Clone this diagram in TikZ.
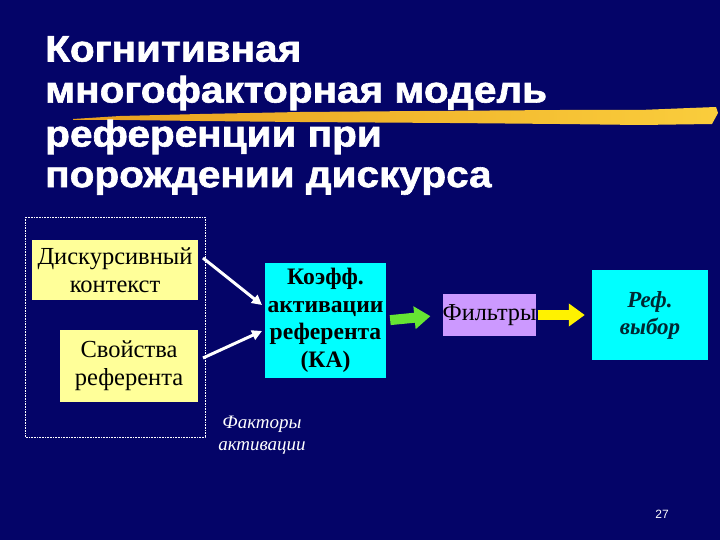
\documentclass[tikz,border=0pt]{standalone}
\usepackage{fontspec}
\setmainfont{Liberation Serif}
\newfontfamily\titlefont[BoldFeatures={FakeBold=1.6}]{Liberation Sans}
\newfontfamily\numfont{Liberation Sans}
\usetikzlibrary{arrows.meta}
\definecolor{bg}{RGB}{4,4,104}
\definecolor{lyel}{RGB}{255,255,153}
\definecolor{cyanbox}{RGB}{0,255,255}
\definecolor{lav}{RGB}{204,153,255}
\definecolor{garrow}{RGB}{102,230,51}
\definecolor{stroke1}{RGB}{232,160,30}
\definecolor{stroke2}{RGB}{250,205,60}
\tikzset{
  titleline/.style={anchor=west,text=white,xscale=1.095,font=\titlefont\bfseries\fontsize{37}{40}\selectfont,inner sep=0pt},
  ybox/.style={fill=lyel,inner sep=0pt,align=center,font=\fontsize{24.5}{28}\selectfont},
  cbox/.style={fill=cyanbox,inner sep=0pt,align=center},
  warrow/.style={white,line width=3pt,-{Triangle[length=10pt,width=10pt]}},
  blockarrow/.style={line width=10pt,-{Triangle[length=16pt,width=22pt]}},
}
\begin{document}
\begin{tikzpicture}[x=1pt,y=-1pt]
\fill[bg] (0,0) rectangle (720,540);
\useasboundingbox (0,0) rectangle (720,540);
% title
\node[titleline] (t1) at (45,49) {Когнитивная};
\node[titleline] (t2) at (45,93) {многофакторная модель};
% brush stroke
\shade[left color=stroke1,right color=stroke2]
  (73,119) -- (120,116) -- (200,114) -- (300,112) -- (420,111) -- (560,110) -- (640,110) -- (690,108) -- (716,107)
  -- (718,113) -- (712,124) -- (640,125) -- (560,124) -- (450,123) -- (300,122) -- (200,121) -- (120,120) -- (73,120) -- cycle;
\node[titleline] (t3) at (45,137) {референции при};
\node[titleline] (t4) at (45,181) {порождении дискурса};
% dotted frame
\draw[white,densely dotted,line width=0.6pt] (25,217) rectangle (205,437);
% boxes
\node[ybox,minimum width=166pt,minimum height=60pt] (dk) at (115,270) {Дискурсивный\\контекст};
\node[ybox,minimum width=138pt,minimum height=72pt] (sv) at (129,366) {Свойства\\референта};
\node[cbox,minimum width=121pt,minimum height=115pt,font=\bfseries\fontsize{23.6}{27.5}\selectfont] (ka) at (325.5,320.5) {Коэфф.\\активации\\референта\\(КА)};
\node[fill=lav,minimum width=91pt,minimum height=42pt,inner sep=0pt,font=\fontsize{24.3}{26}\selectfont] (fl) at (489.5,315) {Фильтры};
\node[cbox,minimum width=116pt,minimum height=90pt,font=\bfseries\itshape\fontsize{23}{27}\selectfont,text={rgb,255:red,0;green,40;blue,50}] (rv) at (650,315) {Реф.\\выбор};
% arrows
\draw[warrow] (203,258) -- (262,305);
\draw[warrow] (203,358) -- (262,331);
\draw[blockarrow,garrow,shorten <=4pt,shorten >=12pt] (ka.east) -- (fl.west);
\draw[blockarrow,yellow,shorten <=1pt,shorten >=7pt] (fl.east) -- (rv.west);
% label
\node[text=white,align=center,font=\itshape\fontsize{19}{22}\selectfont] (fa) at (262,435) {Факторы\\активации};
\node[text=white,font=\numfont\fontsize{12}{14}\selectfont] (pg) at (662,514) {27};
\end{tikzpicture}
\end{document}
